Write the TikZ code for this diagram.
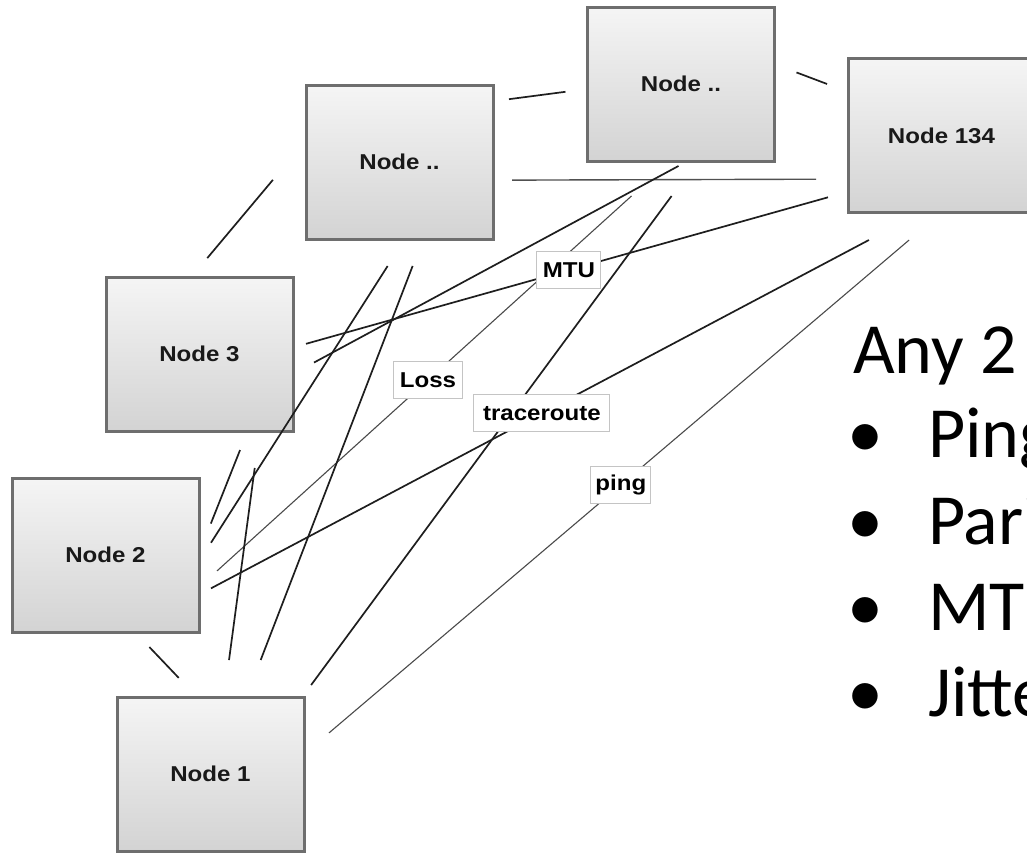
\documentclass[tikz,border=0pt]{standalone}
\usepackage{fontspec}
\newfontfamily\arialf{Liberation Sans}
\newfontfamily\calib{Carlito}
\usetikzlibrary{shadings}
\definecolor{boxedge}{HTML}{6E6E6E}
\definecolor{boxtop}{HTML}{F5F5F5}
\definecolor{boxbot}{HTML}{D3D3D3}
\definecolor{linedark}{HTML}{1E1E1E}
\definecolor{linegrey}{HTML}{4A4A4A}
\definecolor{linemid}{HTML}{505050}
\definecolor{lbledge}{HTML}{C4C4C4}
\newcommand{\wtxt}[1]{\scalebox{1.12}[1]{#1}}
\begin{document}
\begin{tikzpicture}[x=1pt,y=-1pt,
  nodebox/.style={draw=boxedge, line width=3pt, minimum width=187pt, minimum height=154pt,
    inner sep=0pt, outer sep=0pt, top color=boxtop, bottom color=boxbot,
    font=\arialf\bfseries\fontsize{21.5}{24}\selectfont, text=black!90},
  link/.style={draw=linedark, line width=1.7pt},
  thinlink/.style={draw=linegrey, line width=1.1pt},
  midlink/.style={draw=linemid, line width=1.4pt},
  lbl/.style={draw=lbledge, fill=white, line width=0.9pt, minimum height=37pt,
    inner xsep=3pt, inner ysep=0pt, font=\arialf\bfseries\fontsize{21.5}{24}\selectfont, text=black},
  bigtxt/.style={inner sep=0pt, font=\calib\fontsize{72}{86}\selectfont, text=black}
]
\useasboundingbox (0,0) rectangle (1027,852);
\clip (0,0) rectangle (1027,852);
\fill[white] (0,0) rectangle (1027,852);

% nodes
\node[nodebox] (nl)   at (399.5,162)   {\wtxt{Node ..}};
\node[nodebox] (nm)   at (681,84)      {\wtxt{Node ..}};
\node[nodebox] (n134) at (941.5,135.5) {\wtxt{Node 134}};
\node[nodebox] (n3)   at (199.5,354)   {\wtxt{Node 3}};
\node[nodebox] (n2)   at (105.5,555)   {\wtxt{Node 2}};
\node[nodebox] (n1)   at (210.5,774)   {\wtxt{Node 1}};

% connectors
\draw[link, shorten <=24.7pt, shorten >=51.5pt] (n3.96) -- (nl.167);
\draw[link, shorten <=16.1pt, shorten >=22.2pt] (nl.33) -- (nm.183);
\draw[link, shorten <=23.5pt, shorten >=22.4pt] (nm.12) -- (n134.155);
\draw[midlink, shorten <=19pt, shorten >=32pt] (nl.349) -- (n134.205);
\draw[link, shorten <=13.5pt, shorten >=20.8pt] (n3.4) -- coordinate[pos=0.497] (pmtu) (n134.211);
\draw[link, shorten <=23.9pt, shorten >=10.5pt] (n3.348) -- (nm.275);
\draw[link, shorten <=22.3pt, shorten >=32.1pt] (n2.356) -- (nl.274);
\draw[link, shorten <=32.1pt, shorten >=20.5pt] (n2.1) -- (n3.302);
\draw[thinlink, shorten <=24.3pt, shorten >=52.1pt] (n2.341) -- coordinate[pos=0.486] (ploss) (nm.262);
\draw[link, shorten <=13.6pt, shorten >=58.8pt] (n2.337) -- coordinate[pos=0.475] (ptrace) (n134.255);
\draw[link, shorten <=20.8pt, shorten >=26.4pt] (n2.291) -- (n1.100);
\draw[link, shorten <=39.7pt, shorten >=28.9pt] (n1.65) -- (nl.287);
\draw[link, shorten <=37.3pt, shorten >=37.3pt] (n1.80) -- (n3.308);
\draw[link, shorten <=14.9pt, shorten >=43.5pt] (n1.40) -- (nm.282);
\draw[thinlink, shorten <=32.8pt, shorten >=42.5pt] (n1.12) -- coordinate[pos=0.497] (pping) (n134.270);

% labels
\node[lbl, minimum width=64pt]  (lmtu)   at (pmtu)   {\wtxt{MTU}};
\node[lbl, minimum width=69pt]  (lloss)  at (ploss)  {\wtxt{Loss}};
\node[lbl, minimum width=136pt] (ltrace) at (ptrace) {\wtxt{traceroute}};
\node[lbl, minimum width=60pt]  (lping)  at (pping)  {\wtxt{ping}};

% right text
\node[bigtxt, anchor=base west] (any) at (853,373.3) {Any 2};
\node[bigtxt, anchor=base] (b1) at (865.5,457) {•};
\node[bigtxt, anchor=base] (b2) at (865.5,544.5) {•};
\node[bigtxt, anchor=base] (b3) at (865.5,630.5) {•};
\node[bigtxt, anchor=base] (b4) at (865.5,716.8) {•};
\node[bigtxt, anchor=base west] (t1) at (928,457) {Ping};
\node[bigtxt, anchor=base west] (t2) at (928,544.5) {Pari};
\node[bigtxt, anchor=base west] (t3) at (928,630.5) {MT};
\node[bigtxt, anchor=base west] (t4) at (928,716.8) {Jitte};
\end{tikzpicture}
\end{document}
